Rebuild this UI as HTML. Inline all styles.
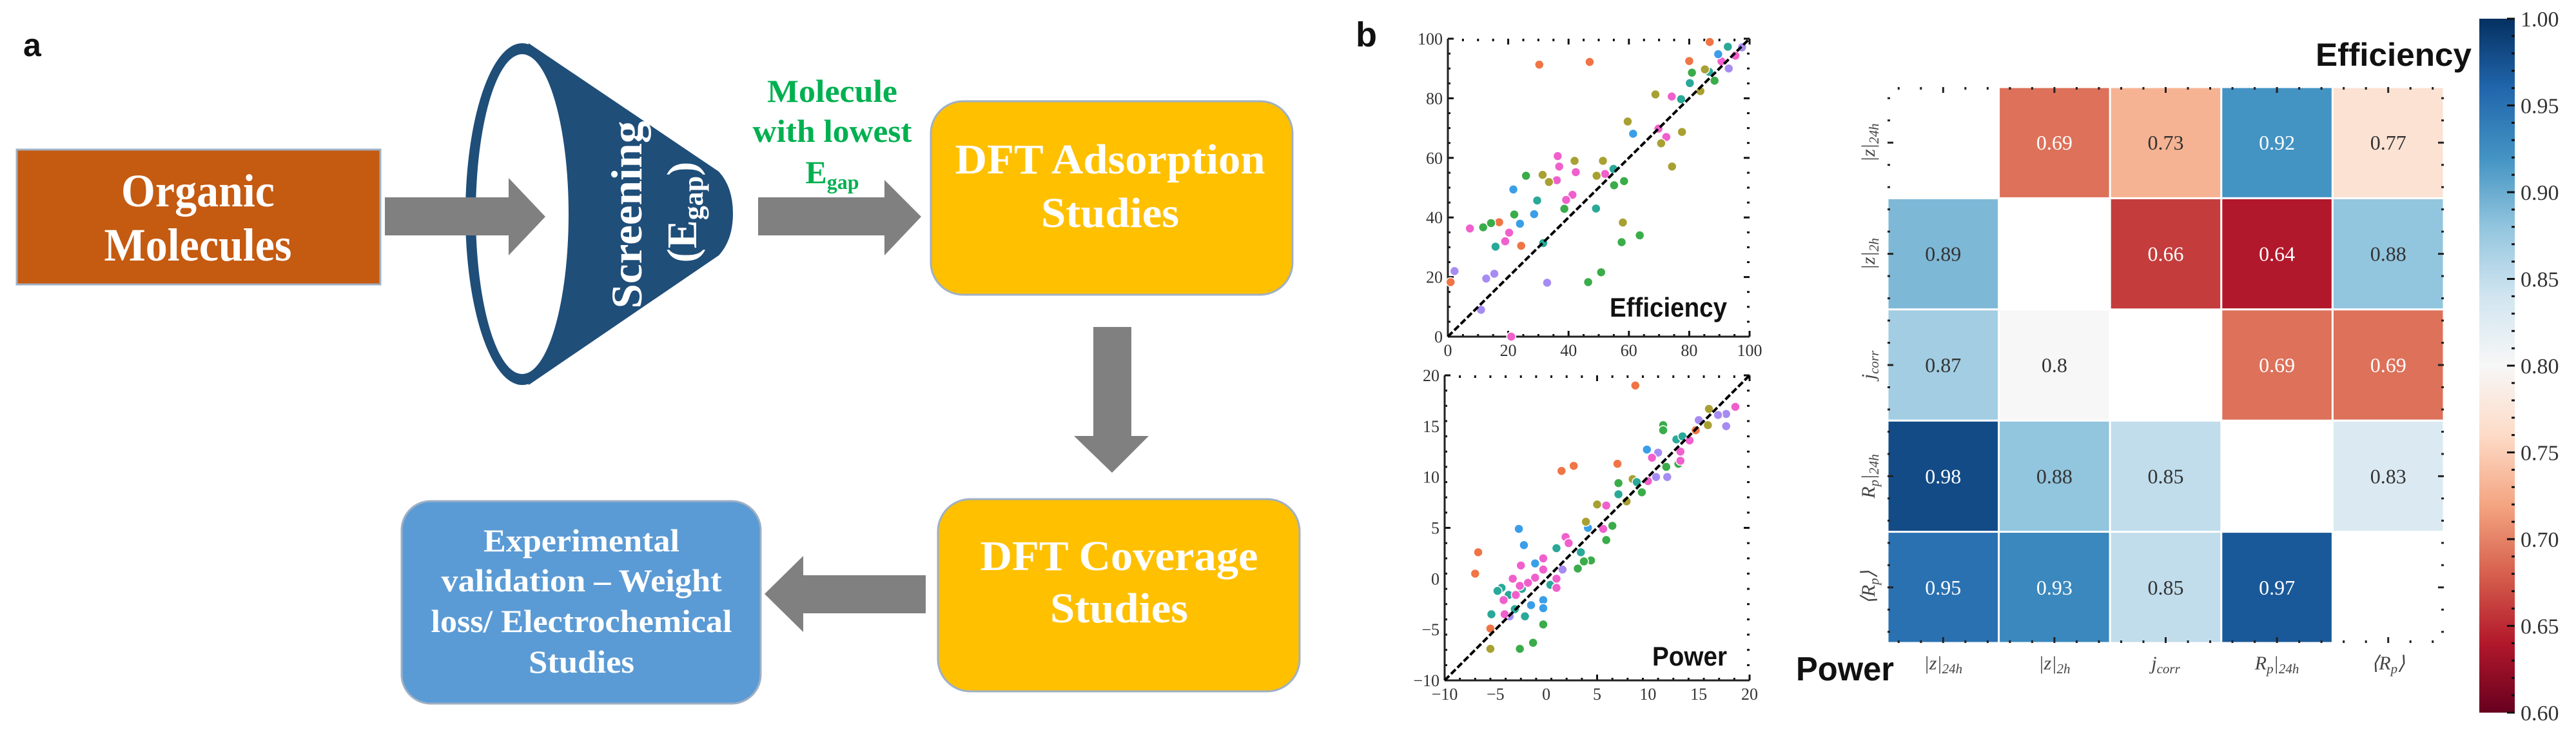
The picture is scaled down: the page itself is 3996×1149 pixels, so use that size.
<!DOCTYPE html>
<html><head><meta charset="utf-8"><style>
html,body{margin:0;padding:0;background:#fff;}
svg{display:block;}
.sv{font-family:"Liberation Serif",serif;font-weight:bold;fill:#fff;}
.tk{font-family:"Liberation Serif",serif;fill:#333;font-size:26px;}
.lb{font-family:"Liberation Sans",sans-serif;font-weight:bold;fill:#111;}
</style></head><body>
<svg id="fig" width="3996" height="1149" viewBox="0 0 3996 1149" xmlns="http://www.w3.org/2000/svg">
<g>
<text x="36" y="87" class="lb" font-size="50">a</text>
<rect x="26" y="232" width="564" height="209" fill="#C55A11" stroke="#9fb0c4" stroke-width="3"/>
<text class="sv" x="307" y="320" text-anchor="middle" font-size="72" textLength="238" lengthAdjust="spacingAndGlyphs">Organic</text>
<text class="sv" x="307" y="404" text-anchor="middle" font-size="72" textLength="291" lengthAdjust="spacingAndGlyphs">Molecules</text>
<g>
<path d="M820,67 L1115,266 Q1137,290 1137,331 Q1137,372 1115,396 L820,597 Z" fill="#1F4E79"/>
<ellipse cx="810" cy="332" rx="88" ry="265" fill="#1F4E79"/>
<ellipse cx="810" cy="332" rx="72" ry="248" fill="#fff"/>
</g>
<text class="sv" transform="translate(995,333) rotate(-90)" text-anchor="middle" font-size="68" textLength="291" lengthAdjust="spacingAndGlyphs">Screening</text>
<text class="sv" transform="translate(1080,329) rotate(-90)" text-anchor="middle" font-size="66">(E<tspan font-size="44" dy="10">gap</tspan><tspan dy="-10">)</tspan></text>
<path d="M597,306 L789,306 L789,276 L846,336 L789,396 L789,365 L597,365 Z" fill="#808080"/>
<text class="sv" style="fill:#00B050" x="1291" y="158" text-anchor="middle" font-size="50" textLength="202" lengthAdjust="spacingAndGlyphs">Molecule</text>
<text class="sv" style="fill:#00B050" x="1291" y="220" text-anchor="middle" font-size="50" textLength="247" lengthAdjust="spacingAndGlyphs">with lowest</text>
<text class="sv" style="fill:#00B050" x="1291" y="284" text-anchor="middle" font-size="50">E<tspan font-size="32" dy="9">gap</tspan></text>
<path d="M1176,306 L1372,306 L1372,279 L1429,336 L1372,396 L1372,365 L1176,365 Z" fill="#808080"/>
<rect x="1444" y="157" width="561" height="300" rx="50" fill="#FFC000" stroke="#9fb0c4" stroke-width="3"/>
<text class="sv" x="1722" y="269" text-anchor="middle" font-size="66" textLength="481" lengthAdjust="spacingAndGlyphs">DFT Adsorption</text>
<text class="sv" x="1722" y="352" text-anchor="middle" font-size="66" textLength="214" lengthAdjust="spacingAndGlyphs">Studies</text>
<path d="M1696,507 L1755,507 L1755,676 L1782,676 L1725,733 L1666,676 L1696,676 Z" fill="#808080"/>
<rect x="1455" y="774" width="561" height="298" rx="50" fill="#FFC000" stroke="#9fb0c4" stroke-width="3"/>
<text class="sv" x="1736" y="884" text-anchor="middle" font-size="66" textLength="431" lengthAdjust="spacingAndGlyphs">DFT Coverage</text>
<text class="sv" x="1736" y="965" text-anchor="middle" font-size="66" textLength="214" lengthAdjust="spacingAndGlyphs">Studies</text>
<path d="M1436,892 L1246,892 L1246,862 L1186,921 L1246,980 L1246,951 L1436,951 Z" fill="#808080"/>
<rect x="623" y="777" width="557" height="314" rx="45" fill="#5B9BD5" stroke="#9fb0c4" stroke-width="3"/>
<text class="sv" x="902" y="855" text-anchor="middle" font-size="50" textLength="304" lengthAdjust="spacingAndGlyphs">Experimental</text>
<text class="sv" x="902" y="917" text-anchor="middle" font-size="50" textLength="435" lengthAdjust="spacingAndGlyphs">validation – Weight</text>
<text class="sv" x="902" y="980" text-anchor="middle" font-size="50" textLength="467" lengthAdjust="spacingAndGlyphs">loss/ Electrochemical</text>
<text class="sv" x="902" y="1043" text-anchor="middle" font-size="50" textLength="164" lengthAdjust="spacingAndGlyphs">Studies</text>
</g>
<text x="2103" y="72" class="lb" font-size="54">b</text>
<g id="eff"></g>
<g id="pow"></g>
<g id="heat"></g>
<g id="cbar"></g>
<text x="3592" y="102" class="lb" font-size="50" textLength="242" lengthAdjust="spacingAndGlyphs">Efficiency</text>
<text x="2786" y="1055" class="lb" font-size="52" textLength="152" lengthAdjust="spacingAndGlyphs">Power</text>
</svg>
<script>
const NS="http://www.w3.org/2000/svg";
const seriesColors=["#f07445","#a8a032","#3aac4a","#2aa898","#3a9ee8","#a68cf2","#f060cc"];
// Efficiency scatter data [series index per point]
const effX=[30.3,47,86.8,80,0.9,17,24.3, 7.3,20.3,19,36.4,36.9,36.1,41.3,39.2,42.4,52.1,74.2,72.4,69.8,21,90.7,95.3, 2.2,12.7,15.4,32.9,11,93.1,97.5, 28.6,23.9,61.4,89.6,21.7, 15.8,29.6,31.6,54.9,49.1,77.3,80.2,86.6,92.8, 11.7,14.3,25.9,22,38.6,46.5,50.8,57.6,58.4,63.6,55.1,80.9,88.4, 31.4,33.5,42,51.4,49.3,59.6,58,68.8,77.6,74.3,70.7,83.7,85.2];
const effY=[91.3,92.2,98.9,92.5,18.3,38.4,30.5, 36.3,34.9,32,60.6,57.1,52.5,47.6,45.9,55.2,54.6,80.6,67,69.8,0,92.4,94.3, 22,19.5,21.1,18.1,9,90,97.1, 41.1,37.9,68.1,94.8,49.4, 30.2,45.7,31.4,56.3,43,79.7,85.1,88.9,97.3, 36.7,38.1,54,41,42.9,18.3,21.6,31.7,52.2,34,50.8,88.6,85.9, 54.3,51.9,59,59,54,72.2,38.3,81.3,68.7,57.1,64.9,82.4,89.7];
const effS=[0,0,0,0,0,0,0, 6,6,6,6,6,6,6,6,6,6,6,6,6,6,6,6, 5,5,5,5,5,5,5, 4,4,4,4,4, 3,3,3,3,3,3,3,3,3, 2,2,2,2,2,2,2,2,2,2,2,2,2, 1,1,1,1,1,1,1,1,1,1,1,1,1];
const effTicks=[0,20,40,60,80,100];
// Power scatter data
const powX=[8.76,1.5,2.7,7.0,-6.7,-7.0,-5.5,14.7, -2.7,-2.2,4.1,-1.1,-0.3,-0.3,-1.5,9.9, 17.7,17.7,11.9,10.8,11,15,1.6,-3.6,16.9, -5.5,5,16,15.9,3.9,7.9,8.5, -2.6,-1.3,-0.3,3.1,4.4,3.7,5.9,6.5,7.1,9.4,11.8,13,11.5,11.5, 1.0,3.4,-4.4,-3.7,-5.4,-2.1,-3.1,12.8,13.4,8.9,7.1,-4.8,-2.4,0.4, -3.3,-2.6,-2.5,-0.3,-1.1,1.9,2.2,1.0,1.0,-4.2,-4.1,5.9,5.6,10,10.4,13.2,13.2,14.1,18.6,-0.3,-1.8,-3.0];
const powY=[19.0,10.6,11.1,11.3,2.6,0.5,-4.9,14.6, 4.9,3.3,5.0,1.5,-2.1,-2.9,-2.6,12.7, 16.2,15.0,10.0,10.0,12.4,15.6,0.9,-3.7,16.1, -6.9,7.3,16.7,15.1,5.6,7.6,9.8, -6.9,-6.3,-4.5,1.0,1.8,1.7,3.8,5.2,9.4,8.5,11.0,11.3,15.1,14.6, 3.0,2.6,-0.9,-1.6,-3.5,-3.7,-3.0,13.7,14,9.5,8.3,-1.2,-1.0,-0.6, 0.0,-0.7,1.3,2.0,0.1,4.1,3.5,0.0,-0.9,-2.1,-3.5,7.2,4.9,9.6,11.9,12.5,11.6,13.6,16.9,0.9,-0.4,-1.6];
const powS=[0,0,0,0,0,0,0,0, 4,4,4,4,4,4,4,4, 5,5,5,5,5,5,5,5,5, 1,1,1,1,1,1,1, 2,2,2,2,2,2,2,2,2,2,2,2,2,2, 3,3,3,3,3,3,3,3,3,3,3,3,3,3, 6,6,6,6,6,6,6,6,6,6,6,6,6,6,6,6,6,6,6,6,6,6];
const powTicks=[-10,-5,0,5,10,15,20];
// Heatmap data
const heatLabels=["|z|","|z|","j","R","⟨R⟩"];
const heatVals=[[null,0.69,0.73,0.92,0.77],[0.89,null,0.66,0.64,0.88],[0.87,0.8,null,0.69,0.69],[0.98,0.88,0.85,null,0.83],[0.95,0.93,0.85,0.97,null]];
const cbarTicks=[0.60,0.65,0.70,0.75,0.80,0.85,0.90,0.95,1.00];

function mk(tag,attrs,parent){const e=document.createElementNS(NS,tag);for(const k in attrs)e.setAttribute(k,attrs[k]);parent.appendChild(e);return e;}

function scatter(g,box,dom,ticks,xs,ys,ss,minorStep,tag){
  const [x0,y0,x1,y1]=box;const [d0,d1]=dom;
  const sx=v=>x0+(v-d0)/(d1-d0)*(x1-x0);
  const sy=v=>y1-(v-d0)/(d1-d0)*(y1-y0);
  for(let v=d0;v<=d1+1e-9;v+=minorStep){
    const major=ticks.some(t=>Math.abs(t-v)<1e-9);const L=major?9:4;const w=3;
    [[sx(v),y0,sx(v),y0+L],[sx(v),y1,sx(v),y1-L],[x0,sy(v),x0+L,sy(v)],[x1,sy(v),x1-L,sy(v)]].forEach(c=>{
      const t=mk('line',{x1:c[0],y1:c[1],x2:c[2],y2:c[3],stroke:'#111','stroke-width':w},g);
      
      
    });
  }
  const spL=mk('line',{x1:x0,y1:y0,x2:x0,y2:y1,stroke:'#222','stroke-width':3},g);
  
  
  const spB=mk('line',{x1:x0,y1:y1,x2:x1,y2:y1,stroke:'#222','stroke-width':3},g);
  
  
  ticks.forEach(t=>{
    const lab=String(t).replace('-','−');
    const a=mk('text',{x:sx(t),y:y1+30,'text-anchor':'middle',class:'tk'},g);a.textContent=lab;
    
    
    const b=mk('text',{x:x0-8,y:sy(t)+9,'text-anchor':'end',class:'tk'},g);b.textContent=lab;
    
    
  });
  for(let i=0;i<xs.length;i++){
    const c=mk('circle',{cx:sx(xs[i]),cy:sy(ys[i]),r:7,fill:seriesColors[ss[i]],stroke:'#fff','stroke-width':1.5},g);
    
    
  }
  const dl=mk('line',{x1:sx(d0),y1:sy(d0),x2:sx(d1),y2:sy(d1),stroke:'#000','stroke-width':4,'stroke-dasharray':'10 4'},g);
  
  
}
scatter(document.getElementById('eff'),[2246,60,2714,522],[0,100],effTicks,effX,effY,effS,5,'efficiency');
scatter(document.getElementById('pow'),[2241,582,2714,1055],[-10,20],powTicks,powX,powY,powS,1.5,'power');
const effL=mk('text',{x:2497,y:491,class:'lb','font-size':42,textLength:182,lengthAdjust:'spacingAndGlyphs'},document.getElementById('eff'));effL.textContent='Efficiency';


const powL=mk('text',{x:2563,y:1032,class:'lb','font-size':42,textLength:116,lengthAdjust:'spacingAndGlyphs'},document.getElementById('pow'));powL.textContent='Power';



const rdbu=["#67001f","#b2182b","#d6604d","#f4a582","#fddbc7","#f7f7f7","#d1e5f0","#92c5de","#4393c3","#2166ac","#053061"];
function hx(h){return [1,3,5].map(i=>parseInt(h.substr(i,2),16));}
function cmap(v){let t=(v-0.6)/0.4;t=Math.max(0,Math.min(1,t));const p=t*10;const i=Math.min(9,Math.floor(p));const f=p-i;const a=hx(rdbu[i]),b=hx(rdbu[i+1]);return 'rgb('+a.map((c,k)=>Math.round(c+(b[k]-c)*f)).join(',')+')';}

const hg=document.getElementById('heat');
const HX0=2928,HY0=135,CW=172.6,CH=172.4;
const subs=["24h","2h","corr","24h",""];
function axisLabel(parent,i,x,y,rot){
  const t=mk('text',{x:x,y:y,'text-anchor':'middle','font-family':'"Liberation Serif",serif','font-style':'italic','font-size':30,fill:'#444'},parent);
  if(rot)t.setAttribute('transform','rotate(-90 '+x+' '+y+')');
  if(i<2){t.textContent='|z|';}else if(i==2){t.textContent='j';}else if(i==3){t.textContent='R';const s=mk('tspan',{'font-size':21,dy:6},t);s.textContent='p';const b=mk('tspan',{dy:-6},t);b.textContent='|';}else{t.textContent='⟨R';const s=mk('tspan',{'font-size':21,dy:6},t);s.textContent='p';const b=mk('tspan',{dy:-6},t);b.textContent='⟩';}
  if(subs[i]){const s=mk('tspan',{'font-size':21,dy:6},t);s.textContent=subs[i];}
  return t;
}
for(let r=0;r<5;r++){for(let c=0;c<5;c++){
  const v=heatVals[r][c];if(v===null)continue;
  const x=HX0+c*CW,y=HY0+r*CH;
  const rc=mk('rect',{x:x,y:y,width:CW,height:CH,fill:cmap(v),stroke:'#fff','stroke-width':3},hg);
  
  
  const t=(v-0.6)/0.4;
  const tx=mk('text',{x:x+CW/2,y:y+CH/2+11,'text-anchor':'middle','font-family':'"Liberation Serif",serif','font-size':32,fill:(t<0.3||t>0.75)?'#fff':'#333'},hg);
  tx.textContent=String(v);
  
  
}}
for(let k=0;k<25;k++){
  const major=(k%5)==2;const pX=HX0+(k+0.5)*CW/5,pY=HY0+(k+0.5)*CH/5;const L=major?9:4;
  [[pX,HY0,pX,HY0+L],[pX,HY0+5*CH,pX,HY0+5*CH-L],[HX0,pY,HX0+L,pY],[HX0+5*CW,pY,HX0+5*CW-L,pY]].forEach(c=>{
    const tl=mk('line',{x1:c[0],y1:c[1],x2:c[2],y2:c[3],stroke:'#222','stroke-width':3},hg);
    
    
  });
}
for(let i=0;i<5;i++){
  const a=axisLabel(hg,i,HX0+(i+0.5)*CW,1038,false);
  
  
  const b=axisLabel(hg,i,2908,HY0+(i+0.5)*CH,true);
  
  
}
const cg=document.getElementById('cbar');
const CB0=29,CB1=1105,CBX=3846,CBW=55;
const defs=mk('defs',{},cg);const lg=mk('linearGradient',{id:'cbg',x1:0,y1:1,x2:0,y2:0},defs);
rdbu.forEach((c,i)=>mk('stop',{offset:(i/10),'stop-color':c},lg));
const cr=mk('rect',{x:CBX,y:CB0,width:CBW,height:CB1-CB0,fill:'url(#cbg)'},cg);


const cy=v=>CB1-(v-0.6)/0.4*(CB1-CB0);
for(let v=0.6;v<=1.0001;v+=0.01){
  const major=Math.abs(Math.round(v*100)%5)<0.5;
  const tl=mk('line',{x1:CBX+CBW,y1:cy(v),x2:CBX+CBW-(major?12:5),y2:cy(v),stroke:'#111','stroke-width':3},cg);
  
  
}
cbarTicks.forEach(v=>{
  const t=mk('text',{x:3910,y:cy(v)+12,'font-family':'"Liberation Serif",serif','font-size':34,fill:'#333'},cg);
  t.textContent=v.toFixed(2);
  
  
});
</script>
</body></html>
